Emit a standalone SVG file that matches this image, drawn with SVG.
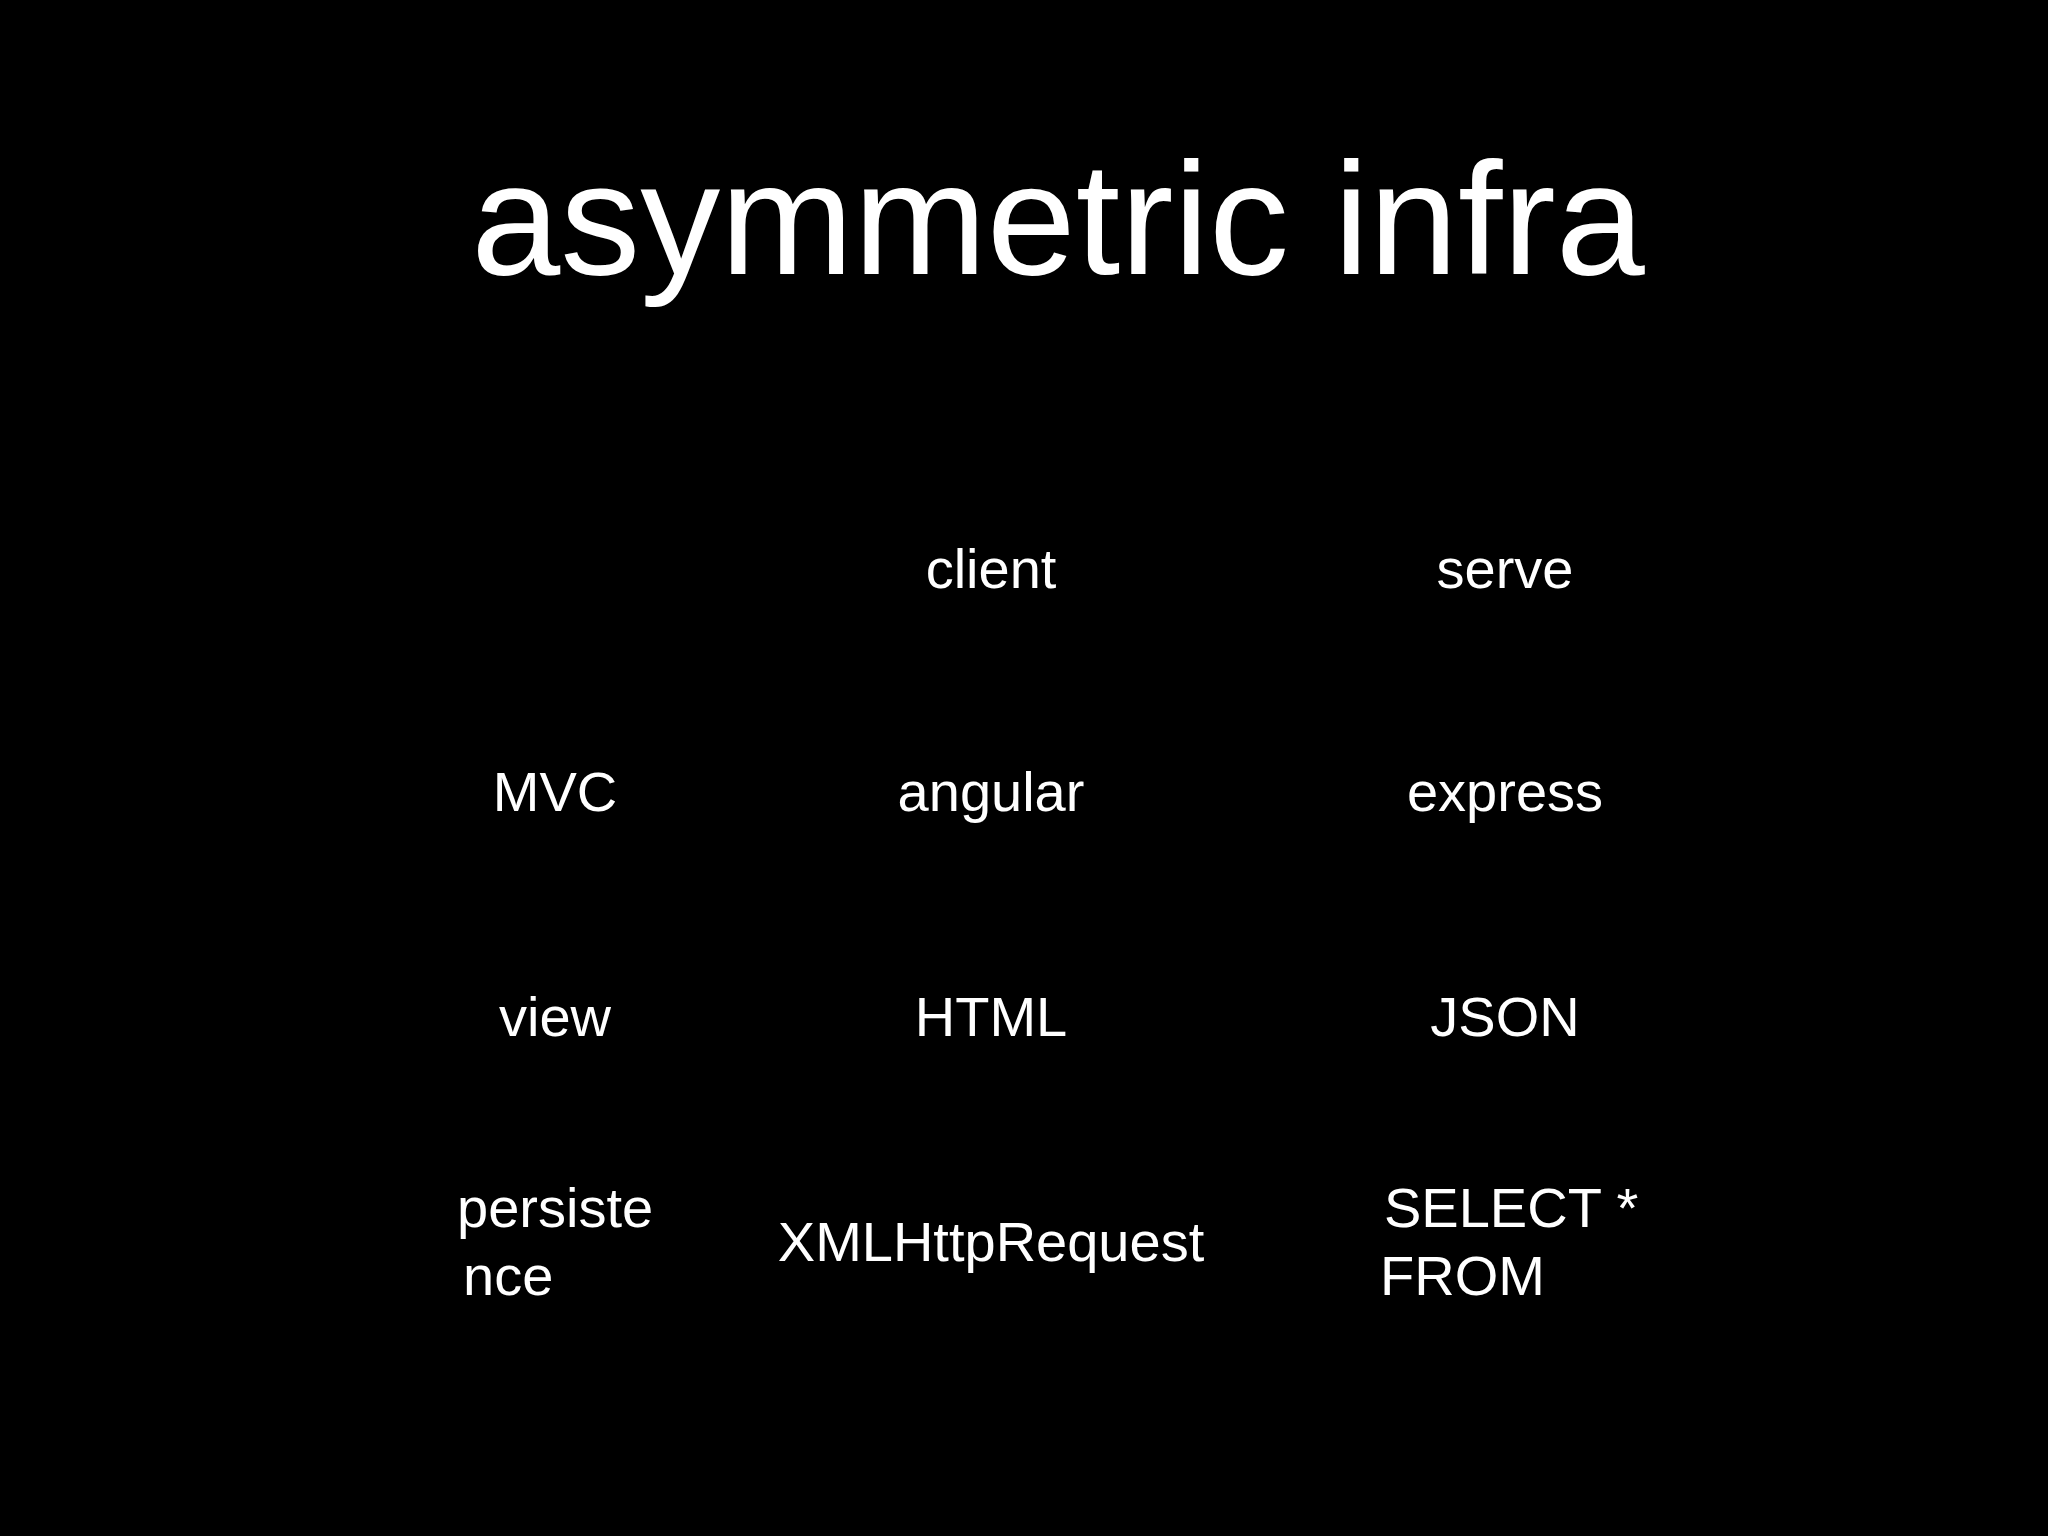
<svg xmlns="http://www.w3.org/2000/svg" width="2048" height="1536" viewBox="0 0 2048 1536">
<style>
text{fill:#fff;font-family:"Liberation Sans",Arial,sans-serif}
.c{font-size:56px;text-anchor:middle}
.l{font-size:56px}
</style>
<rect width="2048" height="1536" fill="#000"/>
<g id="title"><text x="1058" y="274" font-size="160" text-anchor="middle">asymmetric infra</text></g>
<g id="client"><text class="c" x="991" y="588">client</text></g>
<g id="serve"><text class="c" x="1505" y="588">serve</text></g>
<g id="mvc"><text class="c" x="555" y="811">MVC</text></g>
<g id="angular"><text class="c" x="991" y="811">angular</text></g>
<g id="express"><text class="c" x="1505" y="811">express</text></g>
<g id="view"><text class="c" x="555" y="1036">view</text></g>
<g id="html"><text class="c" x="991" y="1036">HTML</text></g>
<g id="json"><text class="c" x="1505" y="1036">JSON</text></g>
<g id="persistence"><text class="l" x="457" y="1227">persiste</text><text class="l" x="463" y="1295">nce</text></g>
<g id="xhr"><text class="c" x="991" y="1261">XMLHttpRequest</text></g>
<g id="select"><text class="l" x="1384" y="1227">SELECT *</text><text class="l" x="1380" y="1295">FROM</text></g>
<g id="connectors"/>
</svg>
